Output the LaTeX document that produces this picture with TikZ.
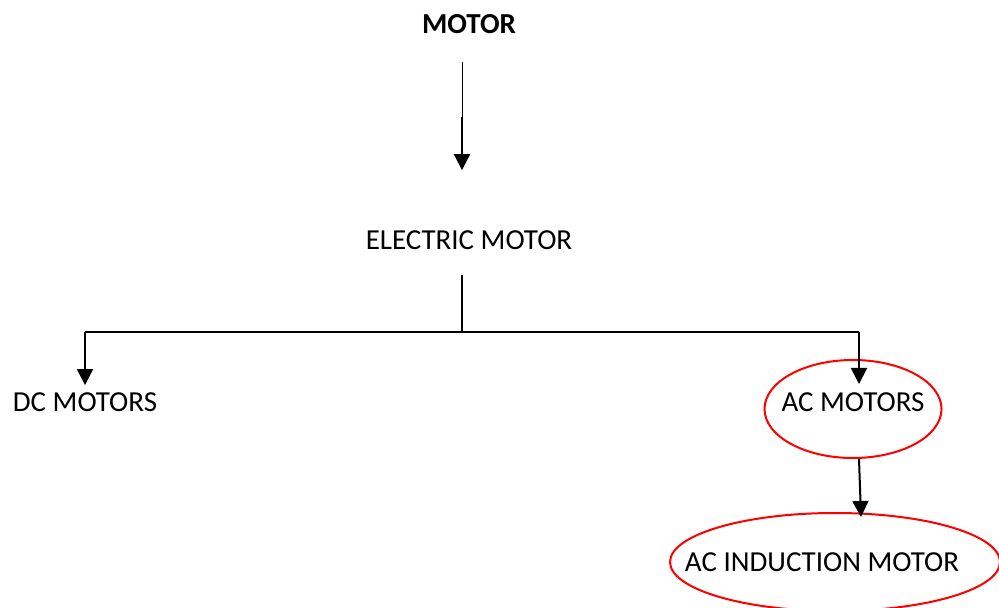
\documentclass[tikz,border=0pt]{standalone}
\usepackage{fontspec}
\setmainfont{Carlito}
\usetikzlibrary{arrows.meta,shapes.geometric}

\begin{document}
\begin{tikzpicture}[x=0.5pt,y=-0.5pt,
    lbl/.style={font=\fontsize{14.5}{17}\selectfont, inner sep=3.5pt},
    oval/.style={lbl, ellipse, draw=red, line width=1pt, inner sep=0pt},
    arr/.style={line width=1pt, -{Triangle[width=8pt,length=8pt]}}]
    \useasboundingbox (0,0) rectangle (999,608);

    % Knoten
    \node[lbl, font=\fontsize{14.5}{17}\selectfont\bfseries] (motor) at (469,24) {MOTOR};
    \node[lbl] (electric) at (469,240) {ELECTRIC MOTOR};
    \node[lbl] (dcm) at (85,402) {DC MOTORS};
    \node[oval, minimum width=88.5pt, minimum height=49pt, text depth=7pt] (acm) at (853,409) {\makebox[0pt]{AC MOTORS}};
    \node[oval, minimum width=165pt, minimum height=49pt] (acind) at (835,562) {\makebox[0pt]{AC INDUCTION MOTOR\hspace{13pt}}};

    \coordinate (top) at (462,62);
    \coordinate (mid) at (462,117);
    \coordinate (stem) at (462,275);
    \coordinate (split) at (462,332);
    \coordinate (lcorner) at (85,332);
    \coordinate (rcorner) at (859,332);

    % Pfeile
    \draw[line width=0.5pt] (top) -- (mid);
    \draw[arr, shorten >=26.5pt] (mid) -- (mid |- electric.north);
    \draw[line width=1pt] (stem) -- (split);
    \draw[line width=1pt] (lcorner) -- (rcorner);
    \draw[arr] (lcorner) -- (lcorner |- dcm.north);
    \draw[arr] (rcorner) -- ([xshift=3pt,yshift=-12.5pt]acm.north);
    \draw[arr] ([xshift=3pt]acm.south) -- ([xshift=13pt,yshift=-2.5pt]acind.north);
\end{tikzpicture}
\end{document}
